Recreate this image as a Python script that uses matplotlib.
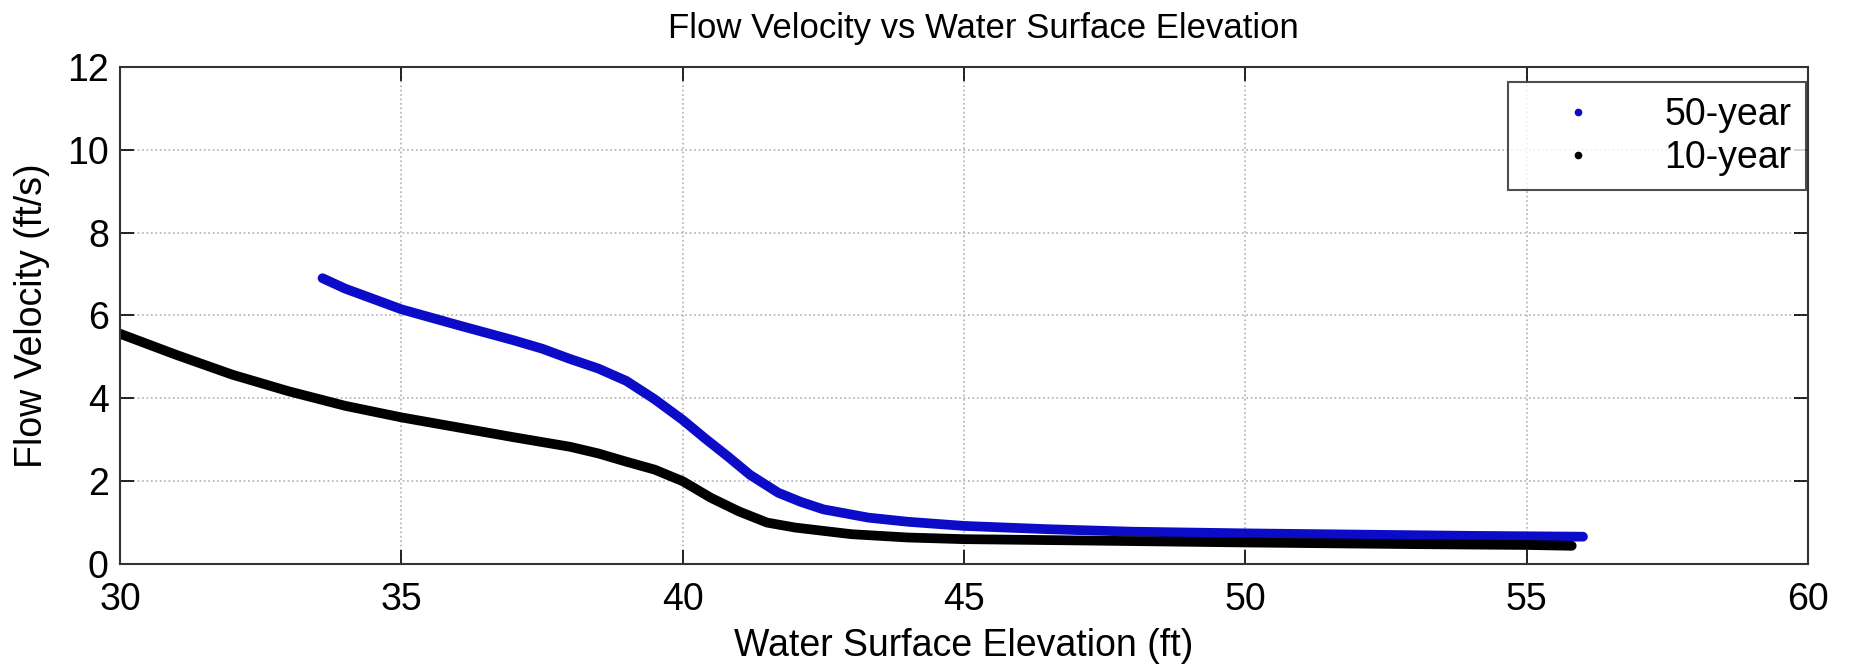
import matplotlib.pyplot as plt
from matplotlib.lines import Line2D

plt.rcParams['font.family'] = ['Liberation Sans', 'DejaVu Sans']

# 50-year flood: water surface elevation (ft) vs flow velocity (ft/s)
wse_50 = [33.6, 34.0, 35.0, 36.0, 37.0, 37.5, 38.0, 38.5, 39.0, 39.5, 40.0, 40.4, 40.8,
          41.2, 41.7, 42.1, 42.5, 43.3, 44.0, 45.0, 46.5, 48.0, 50.0, 52.0, 54.0, 55.0, 56.0]
vel_50 = [6.9, 6.65, 6.15, 5.77, 5.4, 5.2, 4.95, 4.72, 4.42, 3.98, 3.48, 3.03, 2.6,
          2.15, 1.72, 1.5, 1.32, 1.12, 1.02, 0.92, 0.84, 0.78, 0.74, 0.71, 0.68, 0.67, 0.66]

# 10-year flood
wse_10 = [30.0, 31.0, 32.0, 33.0, 34.0, 35.0, 36.0, 37.0, 38.0, 38.5, 39.0, 39.5, 40.0,
          40.5, 41.0, 41.5, 42.0, 43.0, 44.0, 45.0, 47.0, 50.0, 53.0, 55.0, 55.8]
vel_10 = [5.56, 5.05, 4.57, 4.17, 3.82, 3.54, 3.30, 3.06, 2.83, 2.67, 2.47, 2.28, 2.0,
          1.6, 1.27, 1.0, 0.88, 0.72, 0.64, 0.6, 0.57, 0.52, 0.48, 0.46, 0.44]

blue = '#0c0cc8'

fig = plt.figure(figsize=(18.51, 6.67), dpi=100)
ax = fig.add_axes([0.0648, 0.1544, 0.912, 0.7452])

ax.plot(wse_50, vel_50, color=blue, lw=7, solid_capstyle='round', solid_joinstyle='round')
ax.plot(wse_10, vel_10, color='black', lw=7, solid_capstyle='round', solid_joinstyle='round')

ax.set_xlim(30, 60)
ax.set_ylim(0, 12)
ax.set_xticks(range(30, 61, 5))
ax.set_yticks(range(0, 13, 2))
ax.tick_params(direction='in', top=True, right=True, length=10, width=1.2,
               labelsize=27)
ax.tick_params(axis='x', pad=13)
ax.tick_params(axis='y', pad=8)
for s in ax.spines.values():
    s.set_linewidth(1.5)
    s.set_color('#333333')

ax.grid(True, linestyle=':', color='#b0b0b0', linewidth=1.2)

ax.set_xlabel('Water Surface Elevation (ft)', fontsize=27, labelpad=7)
ax.set_ylabel('Flow Velocity (ft/s)', fontsize=27, labelpad=12)
fig.suptitle('Flow Velocity vs Water Surface Elevation', fontsize=25, x=0.531, y=0.982)

handles = [Line2D([], [], marker='.', linestyle='none', color=blue, markersize=9),
           Line2D([], [], marker='.', linestyle='none', color='black', markersize=9)]
leg = ax.legend(handles, ['50-year', '10-year'], loc='upper right',
                bbox_to_anchor=(0.9985, 0.969), borderaxespad=0, fontsize=27,
                frameon=True, fancybox=False, edgecolor='#222222',
                handletextpad=0.8, borderpad=0.38, labelspacing=0.2,
                handlelength=3.0, markerfirst=True)
leg.get_frame().set_linewidth(1.5)

plt.savefig('out.png')
